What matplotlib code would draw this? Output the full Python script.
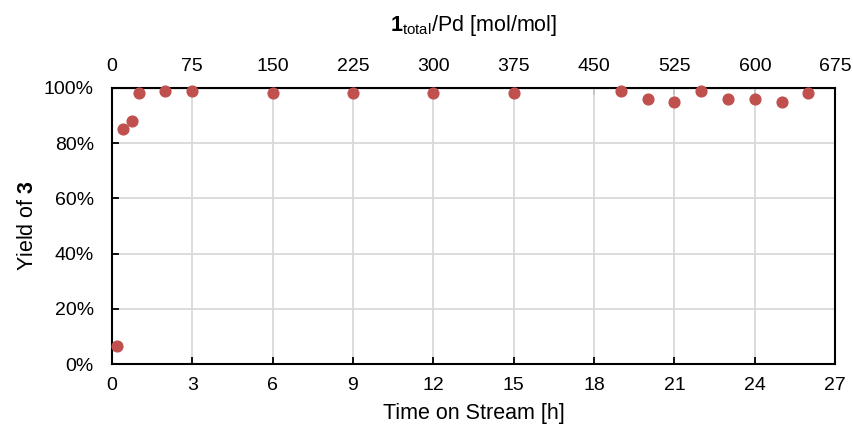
import numpy as np
import matplotlib
matplotlib.use("Agg")
import matplotlib.pyplot as plt
import matplotlib.ticker as ticker

plt.rcParams['font.family'] = ['Liberation Sans', 'DejaVu Sans']
plt.rcParams['mathtext.fontset'] = 'custom'
plt.rcParams['mathtext.rm'] = 'Liberation Sans'
plt.rcParams['mathtext.bf'] = 'Liberation Sans:bold'

# время на потоке [ч] и выход продукта 3
time_h = [0.2, 0.4, 0.75, 1, 2, 3, 6, 9, 12, 15, 19, 20, 21, 22, 23, 24, 25, 26]
yield_3 = [0.065, 0.85, 0.88, 0.98, 0.99, 0.99, 0.98, 0.98, 0.98, 0.98,
           0.99, 0.96, 0.95, 0.99, 0.96, 0.96, 0.95, 0.98]

x_ticks = np.arange(0, 28, 3)
y_ticks = np.arange(0, 1.01, 0.2)
top_ticks = np.arange(0, 676, 75)
ratio = 25  # mol/mol на час

fig = plt.figure(figsize=(8.54, 4.25), dpi=100)
ax = fig.add_axes([0.131, 0.1435, 0.847, 0.6495])
ax.scatter(time_h, yield_3, s=60, color='#C0504D', zorder=3, clip_on=False)

ax.set_xlim(0, 27)
ax.set_ylim(0, 1)
ax.set_xticks(x_ticks)
ax.set_yticks(y_ticks)
ax.yaxis.set_major_formatter(ticker.PercentFormatter(1.0, decimals=0))
ax.grid(color='#d9d9d9', linewidth=1.3)
ax.set_axisbelow(True)
for s in ax.spines.values():
    s.set_linewidth(1.5)
ax.tick_params(direction='in', length=5, width=1.3, labelsize=14)
ax.tick_params(axis='x', pad=9)
ax.tick_params(axis='y', pad=13)
ax.set_xlabel("Time on Stream [h]", fontsize=15.5, labelpad=6.5)
ax.set_ylabel(r"Yield of $\mathbf{3}$", fontsize=15.5, labelpad=4.5)

top = ax.secondary_xaxis('top', functions=(lambda t: t * ratio, lambda r: r / ratio))
top.set_xticks(top_ticks)
top.tick_params(direction='in', length=5, width=1.3, labelsize=14, pad=9)
top.set_xlabel(r"$\mathbf{1}_{\mathrm{total}}$/Pd [mol/mol]", fontsize=15.5, labelpad=20)

fig.savefig("out.png", dpi=100)
